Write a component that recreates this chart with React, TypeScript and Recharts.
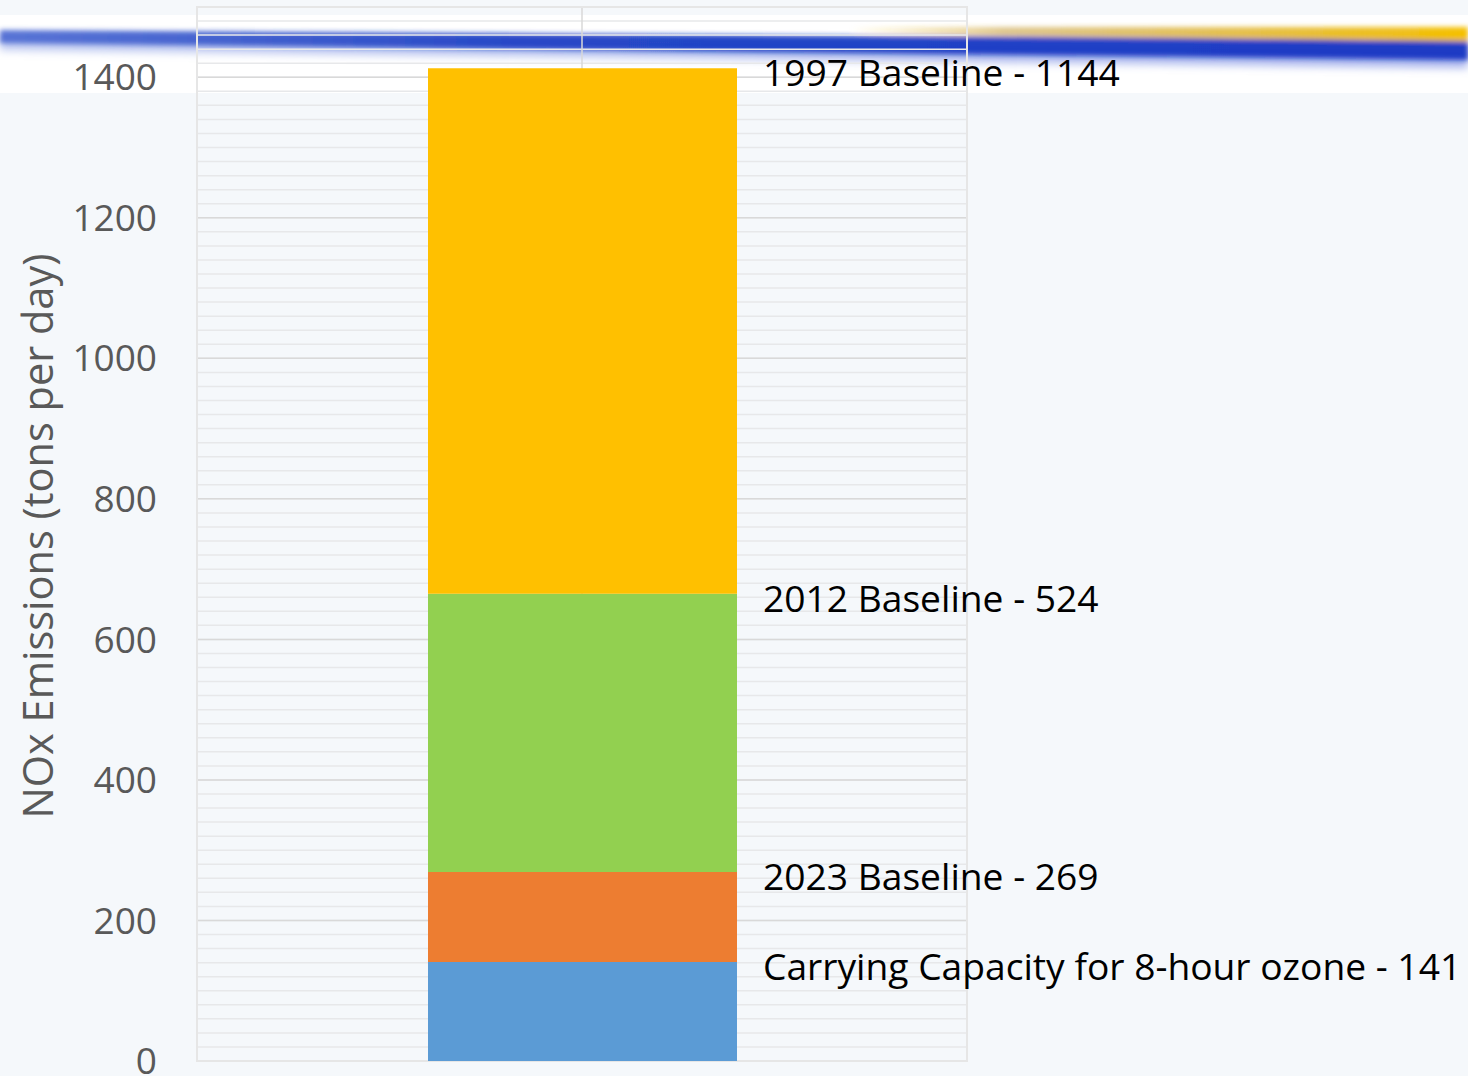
import React from 'react';
import { BarChart, Bar, XAxis, YAxis, CartesianGrid, LabelList, ReferenceArea } from 'recharts';

const categories = ['NOx'];
const seriesKeys = ['capacity', 'b2023', 'b2012', 'b1997'];
const seriesNames = ['Carrying Capacity for 8-hour ozone', '2023 Baseline', '2012 Baseline', '1997 Baseline'];
const segmentValues = [141, 128, 396, 748];
const labelValues = [141, 269, 524, 1144];
const seriesColors = ['#5B9BD5', '#ED7D31', '#92D050', '#FFC000'];
const yTicks = [0, 200, 400, 600, 800, 1000, 1200, 1400];
const yDomain = [0, 1500];
const minorTicks = Array.from({ length: 76 }, (_, i) => i * 20);

const data = categories.map((name) => {
  const row: Record<string, any> = { name };
  seriesKeys.forEach((k, i) => {
    row[k] = segmentValues[i];
  });
  return row;
});

const FONT = "'Open Sans', sans-serif";
const W = 1468;
const H = 1076;
const MARGIN = { top: 7, right: 501, bottom: 15, left: 0 };
const AXIS_W = 197;

const makeLabel = (i: number) => (props: any) => {
  const x = Number(props.x) + Number(props.width) + 26;
  const y = Number(props.y) + 5;
  return (
    <text x={x} y={y} dy="0.35em" fontSize={37.2} fontFamily={FONT} fill="#000000">
      {`${seriesNames[i]} - ${labelValues[i]}`}
    </text>
  );
};

const YTitle = (props: any) => {
  const vb = props.viewBox || {};
  const cx = 38;
  const cy = Number(vb.y) + Number(vb.height) / 2 + 2;
  return (
    <text
      x={cx}
      y={cy}
      dy="0.35em"
      textAnchor="middle"
      transform={`rotate(-90 ${cx} ${cy})`}
      fontSize={41.5}
      fontFamily={FONT}
      fill="#595959"
    >
      NOx Emissions (tons per day)
    </text>
  );
};

const EmptyTick = () => <g />;

const Decoration = () => (
  <svg width={W} height={120} style={{ position: 'absolute', left: 0, top: 0 }}>
    <defs>
      <filter id="blur" x="-10%" y="-200%" width="120%" height="500%">
        <feGaussianBlur stdDeviation="2.5" />
      </filter>
      <filter id="blur2" x="-10%" y="-200%" width="120%" height="500%">
        <feGaussianBlur stdDeviation="4" />
      </filter>
      <linearGradient id="blueH" x1="0" y1="0" x2="1" y2="0">
        <stop offset="0" stopColor="#4a68d2" />
        <stop offset="0.13" stopColor="#3858cc" />
        <stop offset="0.35" stopColor="#1538c2" />
        <stop offset="1" stopColor="#0a2cc0" />
      </linearGradient>
      <linearGradient id="goldH" x1="0" y1="0" x2="1" y2="0">
        <stop offset="0" stopColor="#F2BE10" stopOpacity="0" />
        <stop offset="0.25" stopColor="#C8A040" stopOpacity="0.6" />
        <stop offset="1" stopColor="#F5C000" stopOpacity="1" />
      </linearGradient>
      <linearGradient id="haloH" x1="0" y1="0" x2="1" y2="0">
        <stop offset="0" stopColor="#8fa2e6" />
        <stop offset="1" stopColor="#6b80e0" />
      </linearGradient>
    </defs>
    <rect x={0} y={15} width={W} height={78} fill="#FFFFFF" />
    <g filter="url(#blur2)">
      <polygon points="0,36 1468,46 1468,68 0,50" fill="url(#haloH)" opacity={0.6} />
    </g>
    <g filter="url(#blur)">
      <polygon points="0,30 1468,40 1468,60 0,43" fill="url(#blueH)" opacity={0.9} />
      <polygon points="850,27 1468,27 1468,41 850,35" fill="url(#goldH)" />
    </g>
  </svg>
);

export default function App() {
  return (
    <div
      style={{
        position: 'absolute',
        left: 0,
        top: 0,
        width: W,
        height: H,
        background: '#F5F8FB',
        overflow: 'hidden',
      }}
    >
      <Decoration />
      {/* minor gridline layer */}
      <div style={{ position: 'absolute', left: 0, top: 0 }}>
        <BarChart width={W} height={H} data={data} margin={MARGIN}>
          <XAxis dataKey="name" hide />
          <YAxis
            type="number"
            domain={yDomain}
            ticks={minorTicks}
            interval={0}
            width={AXIS_W}
            axisLine={false}
            tickLine={false}
            tick={EmptyTick}
            minTickGap={0}
          />
          <CartesianGrid vertical={false} stroke="#E7E8EA" strokeWidth={1.5} />
          <Bar dataKey="capacity" fill="none" barSize={309} isAnimationActive={false} />
        </BarChart>
      </div>
      {/* main chart layer */}
      <div style={{ position: 'absolute', left: 0, top: 0 }}>
        <BarChart width={W} height={H} data={data} margin={MARGIN}>
          <XAxis dataKey="name" hide />
          <YAxis
            type="number"
            domain={yDomain}
            ticks={yTicks}
            interval={0}
            width={AXIS_W}
            axisLine={false}
            tickLine={false}
            tickSize={0}
            tickMargin={40}
            tick={{ fill: '#595959', fontSize: 37, fontFamily: FONT }}
            label={{ content: YTitle }}
          />
          <CartesianGrid vertical={true} horizontal={true} stroke="#D9D9D9" strokeWidth={1.5} />
          <ReferenceArea y1={0} y2={1500} fill="none" stroke="#E6E6E6" strokeWidth={2} />
          {seriesKeys.map((k, i) => (
            <Bar
              key={k}
              dataKey={k}
              stackId="a"
              fill={seriesColors[i]}
              barSize={309}
              isAnimationActive={false}
            >
              <LabelList dataKey={k} content={makeLabel(i)} />
            </Bar>
          ))}
        </BarChart>
      </div>
    </div>
  );
}
